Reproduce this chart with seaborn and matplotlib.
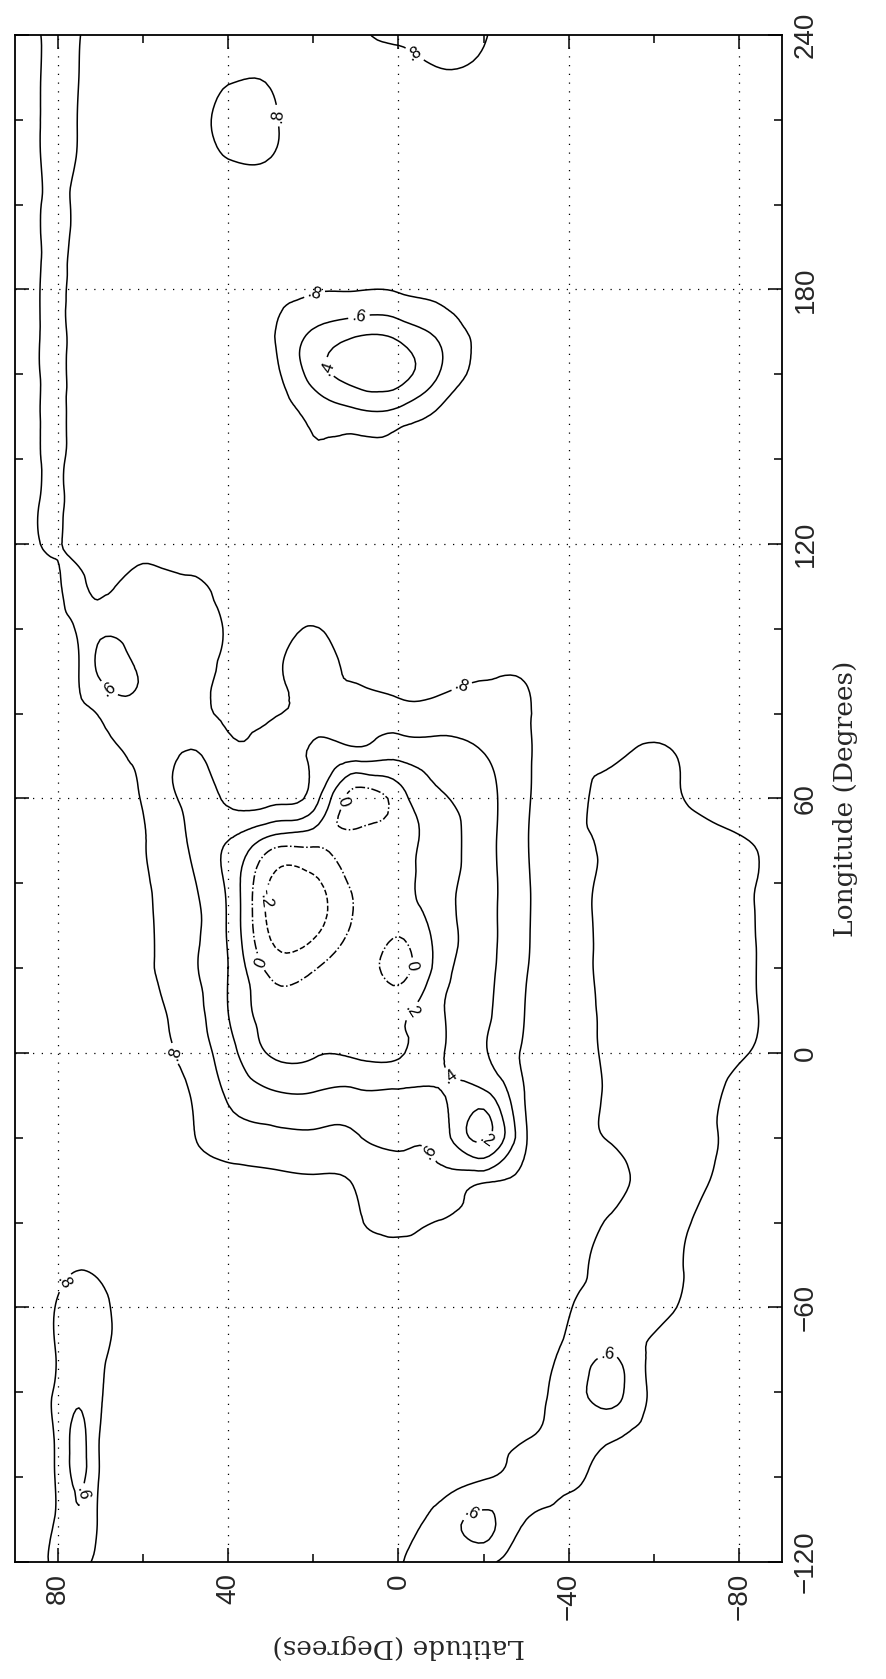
import numpy as np
import matplotlib
matplotlib.use("Agg")
import matplotlib.pyplot as plt
import matplotlib.tri as mtri
import seaborn as sns

# latitude columns (degrees), left to right across the page
lat_cols = [90, 85, 80, 75, 70, 60, 50, 40, 30, 20, 10, 0, -10, -20, -30, -40, -50, -60, -70, -80, -90]
# longitude rows (degrees), top of the page first
lon_rows = [240, 230, 220, 210, 200, 190, 180, 170, 160, 150, 140, 130, 120, 110, 100, 90, 80, 70,
            60, 50, 40, 30, 20, 10, 0, -10, -20, -30, -40, -50, -60, -70, -80, -90, -100, -110, -120]

# field values (x100), one row per longitude
field = [
    [86, 82, 74, 79, 90, 90, 90, 90, 90, 90, 82, 79, 75, 79, 90, 90, 90, 90, 90, 90, 90],  # 240
    [86, 82, 74, 80, 90, 90, 88, 82, 82, 88, 86, 84, 82, 84, 90, 90, 90, 90, 90, 90, 90],  # 230
    [86, 82, 74, 81, 90, 90, 90, 74, 77, 90, 90, 90, 90, 90, 90, 90, 90, 90, 90, 90, 90],  # 220
    [86, 82, 75, 82, 90, 90, 88, 81, 81, 88, 90, 90, 90, 90, 90, 90, 90, 90, 90, 90, 90],  # 210
    [86, 83, 74, 86, 90, 90, 90, 90, 90, 90, 90, 90, 90, 90, 90, 90, 90, 90, 90, 90, 90],  # 200
    [86, 83, 75, 87, 90, 90, 90, 90, 90, 90, 90, 90, 90, 90, 90, 90, 90, 90, 90, 90, 90],  # 190
    [86, 82, 76, 88, 90, 90, 90, 90, 85, 82, 81, 82, 86, 90, 90, 90, 90, 90, 90, 90, 90],  # 180
    [86, 82, 76, 88, 90, 90, 90, 90, 82, 58, 45, 48, 66, 86, 90, 90, 90, 90, 90, 90, 90],  # 170
    [86, 82, 76, 88, 90, 90, 90, 90, 85, 52, 30, 32, 62, 85, 90, 90, 90, 90, 90, 90, 90],  # 160
    [86, 82, 76, 88, 90, 90, 90, 90, 90, 76, 68, 70, 86, 90, 90, 90, 90, 90, 90, 90, 90],  # 150
    [86, 82, 77, 88, 90, 90, 90, 90, 90, 82, 86, 88, 90, 90, 90, 90, 90, 90, 90, 90, 90],  # 140
    [86, 81, 78, 87, 90, 90, 90, 90, 90, 90, 90, 90, 90, 90, 90, 90, 90, 90, 90, 90, 90],  # 130
    [86, 81, 79, 86, 90, 88, 90, 90, 90, 90, 90, 90, 90, 90, 90, 90, 90, 90, 90, 90, 90],  # 120
    [88, 86, 82, 76, 84, 74, 76, 86, 90, 90, 90, 90, 90, 90, 90, 90, 90, 90, 90, 90, 90],  # 110
    [88, 87, 84, 78, 66, 72, 76, 82, 90, 79, 90, 90, 90, 90, 90, 90, 90, 90, 90, 90, 90],  # 100
    [88, 87, 86, 80, 57, 62, 74, 84, 84, 74, 84, 88, 86, 82, 82, 90, 90, 90, 90, 90, 90],  # 90
    [88, 87, 86, 82, 78, 66, 74, 84, 82, 74, 72, 72, 72, 72, 79, 86, 90, 90, 90, 90, 90],  # 80
    [88, 87, 86, 84, 82, 76, 58, 74, 70, 56, 48, 44, 50, 59, 78, 86, 84, 74, 88, 90, 90],  # 70
    [88, 87, 86, 85, 84, 79, 56, 64, 66, 50, -8, 10, 38, 52, 78, 86, 70, 66, 86, 90, 90],  # 60
    [88, 87, 86, 86, 86, 81, 61, 40, 12, 6, 10, 12, 30, 52, 79, 86, 74, 66, 70, 78, 88],  # 50
    [88, 87, 86, 86, 86, 82, 66, 36, -22, -24, 6, 14, 32, 52, 78, 86, 74, 68, 70, 76, 86],  # 40
    [88, 87, 86, 86, 86, 83, 68, 38, -24, -26, 4, 6, 30, 52, 78, 86, 74, 68, 70, 76, 88],  # 30
    [88, 87, 86, 86, 86, 84, 66, 40, -6, -2, 10, -6, 30, 54, 79, 87, 74, 70, 72, 76, 88],  # 20
    [88, 87, 86, 86, 86, 85, 72, 40, 10, 10, 8, 14, 38, 56, 81, 87, 76, 70, 72, 76, 86],  # 10
    [88, 87, 86, 86, 86, 86, 76, 48, 18, 18, 16, 18, 38, 58, 84, 88, 77, 70, 70, 78, 88],  # 0
    [88, 87, 86, 86, 86, 86, 82, 58, 44, 42, 44, 44, 41, 34, 82, 88, 78, 70, 72, 86, 90],  # -10
    [88, 87, 86, 86, 86, 88, 83, 70, 66, 64, 62, 56, 50, 16, 79, 88, 79, 72, 74, 86, 90],  # -20
    [88, 87, 86, 86, 86, 88, 88, 86, 84, 82, 78, 70, 66, 76, 86, 88, 84, 74, 76, 88, 90],  # -30
    [88, 87, 86, 86, 86, 88, 90, 90, 90, 88, 82, 76, 81, 86, 88, 88, 78, 72, 82, 90, 90],  # -40
    [88, 87, 84, 81, 83, 88, 90, 90, 90, 90, 90, 88, 88, 88, 88, 86, 74, 74, 84, 90, 90],  # -50
    [88, 86, 79, 74, 76, 88, 90, 90, 90, 90, 90, 90, 90, 90, 88, 81, 72, 74, 86, 90, 90],  # -60
    [88, 86, 79, 72, 76, 88, 90, 90, 90, 90, 90, 90, 90, 88, 86, 76, 62, 84, 90, 90, 90],  # -70
    [88, 85, 77, 66, 78, 88, 90, 90, 90, 90, 90, 90, 90, 88, 86, 70, 54, 84, 90, 90, 90],  # -80
    [88, 84, 76, 55, 81, 88, 90, 90, 90, 90, 90, 90, 90, 88, 82, 70, 76, 88, 90, 90, 90],  # -90
    [88, 84, 77, 56, 82, 88, 90, 90, 90, 90, 90, 90, 88, 82, 72, 76, 86, 90, 90, 90, 90],  # -100
    [88, 84, 77, 62, 84, 88, 90, 90, 90, 90, 90, 86, 72, 56, 80, 88, 90, 90, 90, 90, 90],  # -110
    [88, 84, 76, 76, 86, 88, 90, 90, 90, 90, 88, 81, 72, 76, 88, 90, 90, 90, 90, 90, 90],  # -120
]

levels = [-0.2, 0.0, 0.2, 0.4, 0.6, 0.8]
level_styles = ["--", "-.", "-", "-", "-", "-"]
level_names = {-0.2: "-.2", 0.0: "0", 0.2: ".2", 0.4: ".4", 0.6: ".6", 0.8: ".8"}

# where the contour labels sit (lat, lon)
label_spots = [(-2, 233), (28, 221), (20, 180), (9, 172), (15, 162), (67, 87), (-15, 86),
               (52, 0), (31, 22), (27, 36), (9, 58), (0, 21), (-3, 10), (-11, -7), (-8, -23),
               (-21, -21), (77, -55), (74, -104), (-49, -71), (-18, -110)]

lat = np.array(lat_cols)
lon = np.array(lon_rows)
z = np.array(field) / 100.0

# smooth the read grid with matplotlib's own triangulation refiner
la_grid, lo_grid = np.meshgrid(lat, lon)
tri = mtri.Triangulation(la_grid.ravel(), lo_grid.ravel())
tri_fine, z_fine = mtri.UniformTriRefiner(tri).refine_field(z.ravel(), subdiv=3)

sns.set_style("ticks")
plt.rcParams["font.family"] = ["Liberation Sans", "DejaVu Sans"]

fig = plt.figure(figsize=(8.87, 16.79), dpi=100)
ax = fig.add_axes([0.0169, 0.0697, 0.8647, 0.9095])

cs = ax.tricontour(tri_fine, z_fine, levels=levels, colors="black", linewidths=1.1,
                   linestyles=level_styles)
ax.clabel(cs, fmt=level_names, manual=label_spots, inline=True,
          inline_spacing=4, fontsize=12)

ax.set_xlim(90, -90)
ax.set_ylim(-120, 240)

ax.set_xticks([80, 40, 0, -40, -80])
ax.set_xticks([60, 20, -20, -60], minor=True)
ax.set_xticklabels(["80", "40", "0", "\u221240", "\u221280"], rotation=90, fontsize=20)
ax.set_yticks([-120, -60, 0, 60, 120, 180, 240])
ax.set_yticks(range(-100, 240, 20), minor=True)
ax.set_yticklabels(["\u2212120", "\u221260", "0", "60", "120", "180", "240"],
                   rotation=90, fontsize=20, va="center")
ax.tick_params(which="both", direction="in", top=True, bottom=True, left=True, right=True,
               labelleft=False, labelright=True, color="black")
ax.tick_params(which="major", length=10, width=1.1, pad=8)
ax.tick_params(which="minor", length=6, width=1.1)

for v in [80, 40, 0, -40, -80]:
    ax.axvline(v, color="black", lw=0.9, linestyle=(0, (1, 6)))
for v in [-60, 0, 60, 120, 180]:
    ax.axhline(v, color="black", lw=0.9, linestyle=(0, (1, 6)))

for s in ax.spines.values():
    s.set_linewidth(1.3)
    s.set_color("black")

ax.set_xlabel("Latitude (Degrees)", rotation=180, fontsize=19, family="DejaVu Serif", labelpad=10)
ax.yaxis.set_label_position("right")
ax.set_ylabel("Longitude (Degrees)", rotation=90, fontsize=19, family="DejaVu Serif", labelpad=10)

fig.savefig("out.png", dpi=100, facecolor="white")
